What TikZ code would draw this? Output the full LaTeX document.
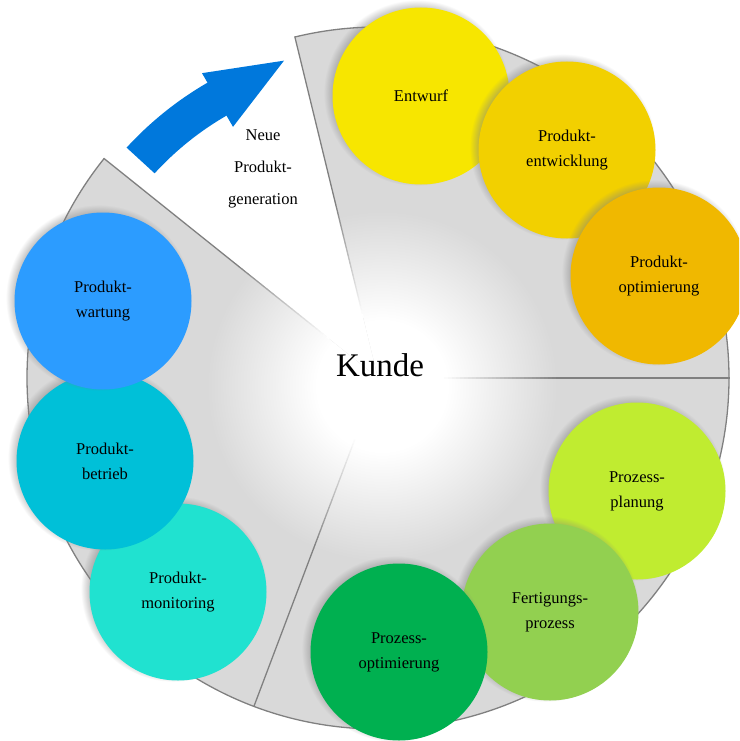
\documentclass[tikz,border=0pt]{standalone}
\usepackage{fontspec}
\setmainfont{Liberation Serif}
\usetikzlibrary{shadows}
\definecolor{cEntwurf}{HTML}{F7E600}
\definecolor{cEntw}{HTML}{F2D000}
\definecolor{cPOpt}{HTML}{F0B800}
\definecolor{cPlan}{HTML}{C0EC30}
\definecolor{cFert}{HTML}{92D050}
\definecolor{cProzOpt}{HTML}{00B050}
\definecolor{cMon}{HTML}{20E2D0}
\definecolor{cBetr}{HTML}{00C0D8}
\definecolor{cWart}{HTML}{2C9CFF}
\definecolor{cArrow}{HTML}{0078DC}
\definecolor{cSector}{HTML}{D9D9D9}
\definecolor{cLine}{HTML}{808080}
\pgfdeclareradialshading{glowshade}{\pgfpointorigin}{color(0bp)=(white); color(6.5bp)=(white); color(17.5bp)=(cSector); color(50bp)=(cSector)}
\begin{document}
\begin{tikzpicture}[x=1pt,y=-1pt,
  sector/.style={fill=cSector},
  rim/.style={draw=cLine, line width=1.3pt},
  bubble/.style={circle, minimum size=177pt, inner sep=0pt, align=center,
    font=\fontsize{16.5}{25}\selectfont, text=black,
    circular drop shadow={shadow xshift=-4pt, shadow yshift=3pt, shadow scale=1.05, opacity=0.7}},
  plain/.style={align=center, font=\fontsize{16.5}{32}\selectfont}]
\useasboundingbox (0,0) rectangle (739,741);
\clip (0,0) rectangle (739,741);
\coordinate (C) at (378,378);
\coordinate (G) at (382,386);
\begin{scope}[shift={(C)}, yscale=-1]
  % grey sectors
  \fill[sector] (0,0) -- (0:351) arc[start angle=0, end angle=103.7, radius=351] -- cycle;
  \fill[sector] (0,0) -- (141.3:351) arc[start angle=141.3, end angle=360, radius=351] -- cycle;
  % white glow in the centre, kept off the white gap
  \begin{scope}
    \clip (0,0) -- (141.3:400) arc[start angle=141.3, end angle=463.7, radius=400] -- cycle;
    \shade[shading=glowshade] (G) circle (250);
  \end{scope}
  % outer rim
  \draw[rim] (0:351) arc[start angle=0, end angle=103.7, radius=351];
  \draw[rim] (141.3:351) arc[start angle=141.3, end angle=360, radius=351];
  % radial separators, fading into the white centre
  \foreach \a in {0,103.7,141.3,249.3} {
    \foreach \k in {0,...,29} {
      \pgfmathsetmacro\ra{62+\k*4}
      \pgfmathsetmacro\rb{66.3+\k*4}
      \pgfmathtruncatemacro\pc{\k*100/29}
      \draw[cLine!\pc!white, line width=1.3pt] (\a:\ra) -- (\a:\rb);
    }
    \draw[cLine, line width=1.3pt] (\a:182) -- (\a:351.6);
  }
  % arrow
  \fill[cArrow] (137.5:341) arc[start angle=137.5, end angle=120, radius=341]
     -- (120:352) -- (106.5:331) -- (120:290) -- (120:303)
     arc[start angle=120, end angle=137.5, radius=303] -- cycle;
\end{scope}
\node[font=\fontsize{33}{40}\selectfont] (kunde) at (380,365) {Kunde};
\node[plain] (neue) at (263,169) {Neue\\Produkt-\\generation};
\node[bubble, fill=cEntwurf] (entwurf) at (421,96) {Entwurf};
\node[bubble, fill=cEntw] (entw) at (567,150) {Produkt-\\entwicklung};
\node[bubble, fill=cPOpt] (popt) at (659,276) {Produkt-\\optimierung};
\node[bubble, fill=cPlan] (plan) at (637,491) {Prozess-\\planung};
\node[bubble, fill=cFert] (fert) at (550,612) {Fertigungs-\\prozess};
\node[bubble, fill=cProzOpt] (prozopt) at (399,652) {Prozess-\\optimierung};
\node[bubble, fill=cMon] (mon) at (178,592) {Produkt-\\monitoring};
\node[bubble, fill=cBetr] (betr) at (105,461) {Produkt-\\betrieb};
\node[bubble, fill=cWart] (wart) at (103,301) {Produkt-\\wartung};
\end{tikzpicture}
\end{document}
